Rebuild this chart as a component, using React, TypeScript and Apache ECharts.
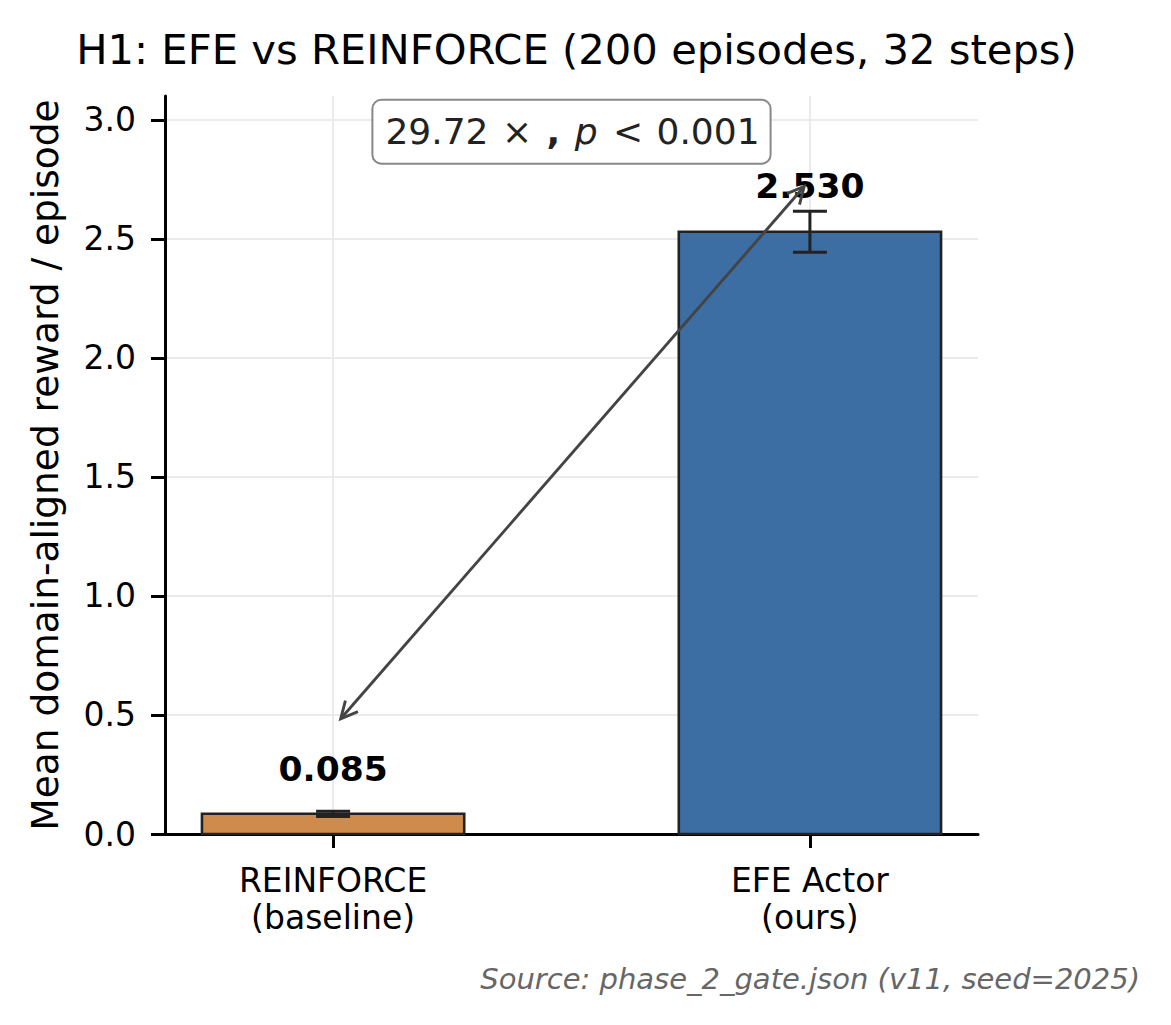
import React, { useEffect, useRef } from 'react'
import * as echarts from 'echarts'

// bar data
const CATEGORIES = ['REINFORCE\n(baseline)', 'EFE Actor\n(ours)']
const MEANS = [0.085, 2.53]
const ERRORS = [0.011, 0.086]
const VALUE_LABELS = ['0.085', '2.530']
const BAR_COLORS = ['#CF8B4B', '#3C6EA4']
const Y_TICKS = [0, 0.5, 1, 1.5, 2, 2.5, 3]
const X_TICKS = [0, 1]

// annotation (data units)
const ARROW_FROM = [0.016, 0.484]
const ARROW_TO = [0.988, 2.72]
const RATIO_POS = [0.5, 2.95]
const RATIO = '29.72'
const P_TEXT = '0.001'

const TITLE = 'H1: EFE vs REINFORCE (200 episodes, 32 steps)'
const Y_NAME = 'Mean domain-aligned reward / episode'
const SOURCE = 'Source: phase_2_gate.json (v11, seed=2025)'

const BAR_W = 0.55
const LABEL_OFFSET = 0.19
const FONT = 'DejaVu Sans'

const App: React.FC = () => {
  const chartRef = useRef<HTMLDivElement>(null)

  useEffect(() => {
    if (!chartRef.current) return
    const chart = echarts.init(chartRef.current, undefined, { renderer: 'svg' })

    const barData = MEANS.map((m, i) => [X_TICKS[i], m, ERRORS[i]])

    const mathSeg = { fontFamily: FONT, fontSize: 36, fill: '#222222', lineHeight: 46 }

    const option = {
      animation: false,
      backgroundColor: '#ffffff',
      textStyle: { fontFamily: FONT },
      title: {
        text: TITLE,
        left: 571.5,
        top: 23,
        textAlign: 'center',
        textStyle: { fontFamily: FONT, fontSize: 41.7, fontWeight: 'normal', color: '#000', lineHeight: 42 },
      },
      grid: { left: 165, right: 193, top: 96, bottom: 191, containLabel: false },
      xAxis: {
        type: 'value',
        min: -0.3525,
        max: 1.3525,
        axisLine: { show: true, onZero: false, lineStyle: { color: '#000', width: 3 } },
        axisTick: { show: true, length: 14, customValues: X_TICKS, lineStyle: { color: '#000', width: 3 } },
        axisLabel: {
          customValues: X_TICKS,
          margin: 28,
          fontSize: 33,
          lineHeight: 37,
          color: '#000',
          fontFamily: FONT,
          formatter: (v: number) => CATEGORIES[Math.round(v)] ?? '',
        },
        splitLine: { show: true, lineStyle: { color: '#ebebeb', width: 2 } },
      },
      yAxis: {
        type: 'value',
        min: 0,
        max: 3.1,
        name: Y_NAME,
        nameLocation: 'middle',
        nameGap: 101,
        nameTextStyle: { fontFamily: FONT, fontSize: 37.5, color: '#000' },
        axisLine: { show: true, onZero: false, lineStyle: { color: '#000', width: 3 } },
        axisTick: { show: true, length: 14, customValues: Y_TICKS, lineStyle: { color: '#000', width: 3 } },
        axisLabel: {
          customValues: Y_TICKS,
          margin: 29,
          fontSize: 33,
          color: '#000',
          fontFamily: FONT,
          formatter: (v: number) => v.toFixed(1),
        },
        splitLine: { show: true, lineStyle: { color: '#ebebeb', width: 2 } },
      },
      graphic: [
        {
          type: 'text',
          right: 31,
          top: 964,
          style: {
            text: SOURCE,
            fill: '#666666',
            font: `italic 29px "${FONT}"`,
          },
        },
      ],
      series: [
        // bars
        {
          type: 'custom',
          data: barData,
          encode: { x: 0, y: 1 },
          z: 2,
          silent: true,
          renderItem: (params: any, api: any) => {
            const x = api.value(0)
            const v = api.value(1)
            const tl = api.coord([x - BAR_W / 2, v])
            const br = api.coord([x + BAR_W / 2, 0])
            return {
              type: 'rect',
              shape: { x: tl[0], y: tl[1], width: br[0] - tl[0], height: br[1] - tl[1] },
              style: { fill: BAR_COLORS[params.dataIndex], stroke: '#222222', lineWidth: 2.6 },
            }
          },
        },
        // error bars + value labels
        {
          type: 'custom',
          data: barData,
          encode: { x: 0, y: 1 },
          z: 3,
          silent: true,
          renderItem: (params: any, api: any) => {
            const x = api.value(0)
            const v = api.value(1)
            const e = api.value(2)
            const hi = api.coord([x, v + e])
            const lo = api.coord([x, v - e])
            const lab = api.coord([x, v + LABEL_OFFSET])
            const cap = 17
            const ls = { stroke: '#222222', lineWidth: 3 }
            return {
              type: 'group',
              children: [
                { type: 'line', shape: { x1: hi[0], y1: hi[1], x2: lo[0], y2: lo[1] }, style: ls },
                { type: 'line', shape: { x1: hi[0] - cap, y1: hi[1], x2: hi[0] + cap, y2: hi[1] }, style: ls },
                { type: 'line', shape: { x1: lo[0] - cap, y1: lo[1], x2: lo[0] + cap, y2: lo[1] }, style: ls },
                {
                  type: 'text',
                  x: lab[0],
                  y: lab[1],
                  style: {
                    text: VALUE_LABELS[params.dataIndex],
                    fill: '#000',
                    fontFamily: FONT,
                    fontSize: 34.5,
                    fontWeight: 'bold',
                    align: 'center',
                    verticalAlign: 'middle',
                  },
                },
              ],
            }
          },
        },
        // double-headed arrow
        {
          type: 'custom',
          data: [[ARROW_FROM[0], ARROW_FROM[1], ARROW_TO[0], ARROW_TO[1]]],
          encode: { x: [0, 2], y: [1, 3] },
          z: 4,
          silent: true,
          renderItem: (_params: any, api: any) => {
            const a = api.coord([api.value(0), api.value(1)])
            const b = api.coord([api.value(2), api.value(3)])
            const headL = 16.7
            const headW = 8.3
            const head = (tip: number[], from: number[]) => {
              const dx = tip[0] - from[0]
              const dy = tip[1] - from[1]
              const len = Math.hypot(dx, dy)
              const ux = dx / len
              const uy = dy / len
              const bx = tip[0] - ux * headL
              const by = tip[1] - uy * headL
              return {
                type: 'polyline',
                shape: {
                  points: [
                    [bx - uy * headW, by + ux * headW],
                    [tip[0], tip[1]],
                    [bx + uy * headW, by - ux * headW],
                  ],
                },
                style: { stroke: '#444444', lineWidth: 2.9, fill: 'none', lineJoin: 'miter' },
              }
            }
            return {
              type: 'group',
              children: [
                {
                  type: 'line',
                  shape: { x1: a[0], y1: a[1], x2: b[0], y2: b[1] },
                  style: { stroke: '#444444', lineWidth: 2.9 },
                },
                head(a, b),
                head(b, a),
              ],
            }
          },
        },
        // ratio box
        {
          type: 'custom',
          data: [RATIO_POS],
          encode: { x: 0, y: 1 },
          z: 5,
          silent: true,
          renderItem: (_params: any, api: any) => {
            const p = api.coord([api.value(0), api.value(1)])
            return {
              type: 'text',
              x: p[0],
              y: p[1],
              style: {
                text: `{a|${RATIO} }{o|×}{a| }{b|,}{a| }{c|p}{a| }{o|<}{a| ${P_TEXT}}`,
                align: 'center',
                verticalAlign: 'middle',
                backgroundColor: '#ffffff',
                borderColor: '#888888',
                borderWidth: 2,
                borderRadius: 8,
                padding: [8, 10, 8, 12],
                rich: {
                  a: mathSeg,
                  o: { ...mathSeg, padding: [0, 2, 0, 2] },
                  b: { ...mathSeg, fontWeight: 'bold', padding: [0, 1, 0, 1] },
                  c: { ...mathSeg, fontStyle: 'italic', padding: [0, 2, 0, 2] },
                },
              },
            }
          },
        },
      ],
    }

    chart.setOption(option as any)

    return () => {
      chart.dispose()
    }
  }, [])

  return (
    <div
      ref={chartRef}
      style={{ position: 'fixed', left: 0, top: 0, width: 1171, height: 1025 }}
    />
  )
}

export default App
